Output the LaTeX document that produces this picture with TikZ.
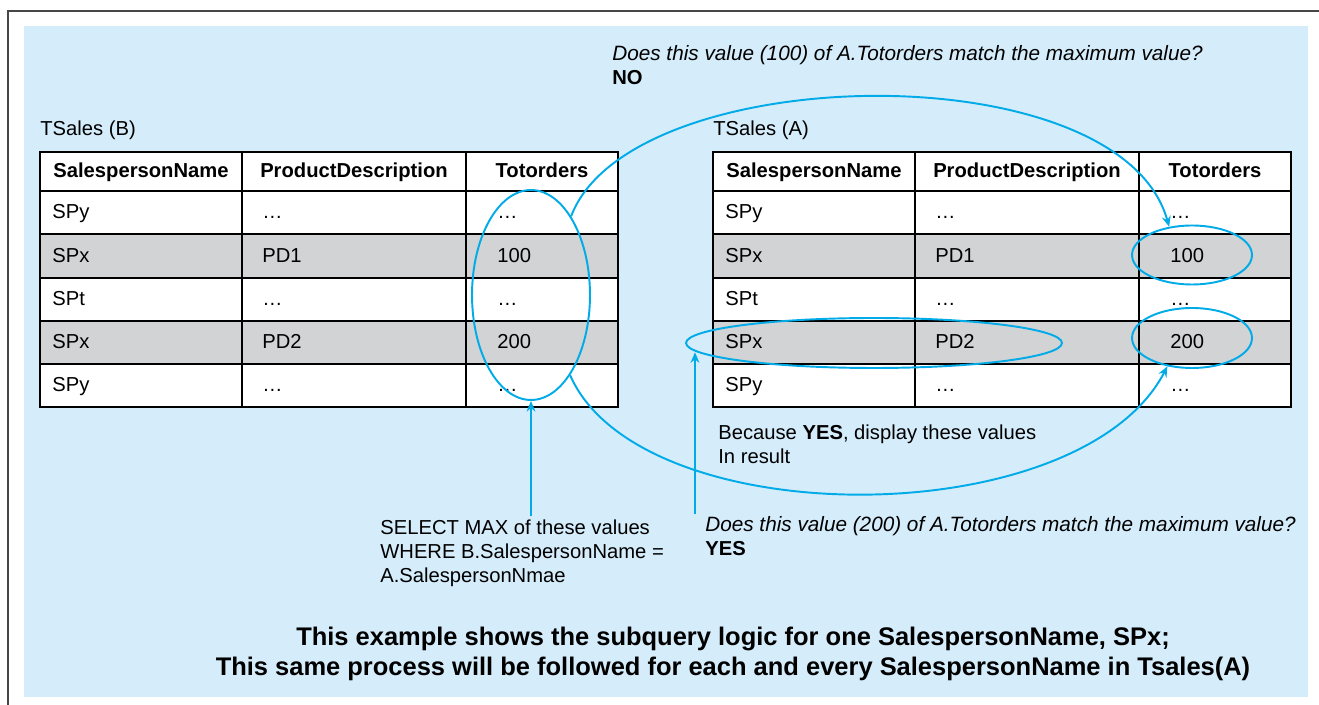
\documentclass[tikz,border=0pt]{standalone}
\usepackage{fontspec}
\setmainfont{Liberation Sans}
\usetikzlibrary{arrows.meta, shapes.geometric}

\definecolor{bgblue}{RGB}{213,236,250}
\definecolor{rowgrey}{RGB}{209,211,212}
\definecolor{loopcyan}{RGB}{0,171,232}
\definecolor{framegrey}{RGB}{70,70,70}

\begin{document}
\begin{tikzpicture}[
        x=0.02cm, y=-0.02cm,
        cell/.style={anchor=base west, inner sep=0pt, font=\fontsize{11.5}{13.8}\selectfont},
        head/.style={anchor=base, inner sep=0pt, font=\fontsize{11.5}{13.8}\selectfont\bfseries},
        note/.style={anchor=base west, inner sep=0pt, align=left, font=\fontsize{11.5}{13.8}\selectfont},
        ring/.style={ellipse, draw=loopcyan, line width=1.1pt, inner sep=0pt},
        arrow/.style={-{Stealth[length=6pt, width=5pt]}, draw=loopcyan, line width=1.1pt}
    ]
    \useasboundingbox (0,0) rectangle (1319,705);

    % Frame and background
    \draw[framegrey, line width=1.3pt] (1319,11) -- (8,11) -- (8,705);
    \fill[bgblue] (24,26) rectangle (1308,697);

    % Tables
    \foreach \t/\ox in {B/0, A/673} {
        \fill[white] (40+\ox,152) rectangle (618+\ox,407);
        \fill[rowgrey] (40+\ox,234) rectangle (618+\ox,278);
        \fill[rowgrey] (40+\ox,321) rectangle (618+\ox,364);
        \foreach \yy in {191,234,278,321,364}
            \draw[line width=0.7pt] (40+\ox,\yy) -- (618+\ox,\yy);
        \foreach \xx in {242,466}
            \draw[line width=0.7pt] (\xx+\ox,152) -- (\xx+\ox,407);
        \draw[line width=1.3pt] (40+\ox,152) rectangle (618+\ox,407);
        \node[head] (\t-h1) at (141+\ox,178) {SalespersonName};
        \node[head] (\t-h2) at (354+\ox,178) {ProductDescription};
        \node[head] (\t-h3) at (542+\ox,178) {Totorders};
        \foreach \r/\yb/\sp/\pd/\tot in {1/219/SPy/\ldots/\ldots, 2/263/SPx/PD1/100,
                3/306/SPt/\ldots/\ldots, 4/349/SPx/PD2/200, 5/392/SPy/\ldots/\ldots} {
            \node[cell] (\t-\r-1) at (52+\ox,\yb) {\sp};
            \node[cell] (\t-\r-2) at (262+\ox,\yb) {\pd};
            \node[cell] (\t-\r-3) at (497+\ox,\yb) {\tot};
        }
    }
    \node[cell] (labelB) at (40,136) {TSales (B)};
    \node[cell] (labelA) at (713,136) {TSales (A)};

    % Notes
    \node[note] (noteNo) at (612,85) {\textit{\fontsize{11.8}{13.8}\selectfont Does this value (100) of A.Totorders match the maximum value?}\\\textbf{NO}};
    \node[note] (noteShow) at (718,464) {Because \textbf{YES}, display these values\\In result};
    \node[note] (noteMax) at (380,583) {SELECT MAX of these values\\WHERE B.SalespersonName =\\A.SalespersonNmae};
    \node[note] (noteYes) at (705,556) {\textit{\fontsize{11.8}{13.8}\selectfont Does this value (200) of A.Totorders match the maximum value?}\\\textbf{YES}};
    \node[anchor=base, inner sep=0pt, align=center, font=\fontsize{14.5}{17.6}\selectfont\bfseries] (caption) at (733,676)
        {This example shows the subquery logic for one SalespersonName, SPx;\\This same process will be followed for each and every SalespersonName in Tsales(A)};

    % Rings
    \node[ring, minimum width=2.36cm, minimum height=4.2cm] (ellB) at (531,295) {};
    \node[ring, minimum width=2.4cm, minimum height=1.18cm] (ellA1) at (1192,255) {};
    \node[ring, minimum width=2.4cm, minimum height=1.2cm] (ellA2) at (1192,338) {};
    \node[ring, minimum width=7.52cm, minimum height=1cm] (ellRow) at (874,343) {};
    \coordinate (yesfoot) at (695,514);

    % Arrows
    \draw[arrow] ([yshift=2pt]noteMax.north -| ellB.south) -- (ellB.south);
    \draw[arrow] (yesfoot) -- (yesfoot |- ellRow.183);
    \draw[arrow] (ellB.63) .. controls (630,60) and (1120,50) .. (ellA1.129);
    \draw[arrow] (ellB.296) .. controls (640,535) and (1080,535) .. (ellA2.229);

\end{tikzpicture}
\end{document}
